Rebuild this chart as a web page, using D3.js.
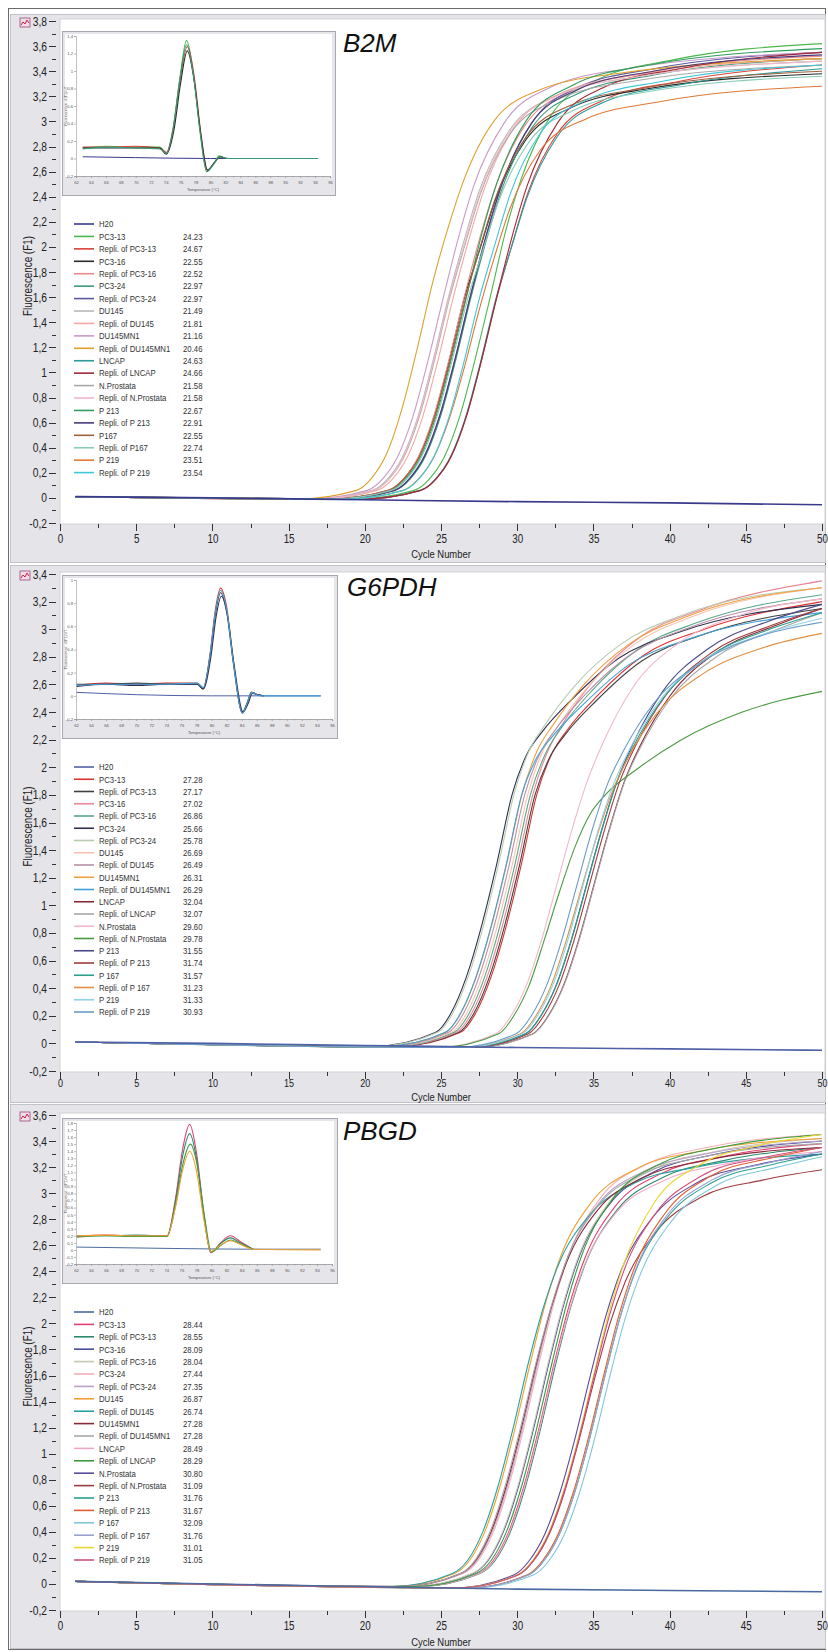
<!DOCTYPE html>
<html><head><meta charset="utf-8">
<script src="https://cdn.jsdelivr.net/npm/d3@7"></script>
<style>body{margin:0;background:#fff}svg{display:block}</style>
</head><body>
<svg id="c" width="828" height="1652"></svg>
<script>
// ---------------- DATA ----------------
const panelTitles = ['B2M','G6PDH','PBGD'];
const yMaxes = [3.8, 3.4, 3.6];
const xTicks = [0,5,10,15,20,25,30,35,40,45,50];

const b2mNames = ['H20','PC3-13','Repli. of PC3-13','PC3-16','Repli. of PC3-16','PC3-24','Repli. of PC3-24','DU145','Repli. of DU145','DU145MN1','Repli. of DU145MN1','LNCAP','Repli. of LNCAP','N.Prostata','Repli. of N.Prostata','P 213','Repli. of P 213','P167','Repli. of P167','P 219','Repli. of P 219'];
const g6Names = ['H20','PC3-13','Repli. of PC3-13','PC3-16','Repli. of PC3-16','PC3-24','Repli. of PC3-24','DU145','Repli. of DU145','DU145MN1','Repli. of DU145MN1','LNCAP','Repli. of LNCAP','N.Prostata','Repli. of N.Prostata','P 213','Repli. of P 213','P 167','Repli. of P 167','P 219','Repli. of P 219'];
const pbNames = ['H20','PC3-13','Repli. of PC3-13','PC3-16','Repli. of PC3-16','PC3-24','Repli. of PC3-24','DU145','Repli. of DU145','DU145MN1','Repli. of DU145MN1','LNCAP','Repli. of LNCAP','N.Prostata','Repli. of N.Prostata','P 213','Repli. of P 213','P 167','Repli. of P 167','P 219','Repli. of P 219'];

const b2mCt = [24.23,24.67,22.55,22.52,22.97,22.97,21.49,21.81,21.16,20.46,24.63,24.66,21.58,21.58,22.67,22.91,22.55,22.74,23.51,23.54];
const g6Ct = [27.28,27.17,27.02,26.86,25.66,25.78,26.69,26.49,26.31,26.29,32.04,32.07,29.60,29.78,31.55,31.74,31.57,31.23,31.33,30.93];
const pbCt = [28.44,28.55,28.09,28.04,27.44,27.35,26.87,26.74,27.28,27.28,28.49,28.29,30.80,31.09,31.76,31.67,32.09,31.76,31.01,31.05];

const b2mColors = ['#3a3a8c','#4cb84c','#d9403a','#2a2a2a','#ec8a8a','#3a9a7a','#5a5aa0','#b8b8b8','#f4a8a0','#c89ac8','#e0a030','#2a9a9a','#a02838','#a8a8a8','#f0b8c8','#2e9e5e','#4a3a7a','#a0603a','#88ccb8','#e07838','#40c8d8'];
const g6Colors = ['#5060a8','#e03030','#404040','#e88898','#58a888','#303050','#b8ccb0','#f8c4b0','#b890a8','#f0a040','#40a0d8','#8a2838','#a8a8a8','#f0b8c8','#4a9a40','#4a4a8a','#a03a3a','#2aa08a','#e09040','#90d0e8','#6a9ac8'];
const pbColors = ['#4a6aa0','#e04070','#2a8a6a','#4a4a9a','#c8c8b0','#f4b0b8','#b8a0c8','#f0a030','#2aa0a0','#8a2838','#a8a8a8','#f0a8c8','#3a9a40','#5a4a9a','#a03a40','#2aa090','#e06030','#80c8d8','#9aa0d0','#e8d830','#d05080'];

// amplification curves [cycle, fluorescence]
const b2mH2O = [[1,0.01],[10,0.0],[20,-0.015],[30,-0.03],[40,-0.04],[50,-0.055]];
const b2mCurves = [
 [[1,0.01],[19.23,-0.01],[23.23,0.06],[24.23,0.15],[25.23,0.33],[26.23,0.65],[27.23,1.1],[28.23,1.6],[29.23,2.12],[30.23,2.53],[32.23,3.05],[35.23,3.33],[40.23,3.49],[50,3.62]],
 [[1,0.01],[19.67,-0.01],[23.67,0.06],[24.67,0.15],[25.67,0.33],[26.67,0.65],[27.67,1.1],[28.67,1.6],[29.67,2.02],[30.67,2.42],[32.67,2.91],[35.67,3.17],[40.67,3.32],[50,3.45]],
 [[1,0.01],[17.55,-0.01],[21.55,0.06],[22.55,0.15],[23.55,0.33],[24.55,0.65],[25.55,1.1],[26.55,1.6],[27.55,1.98],[28.55,2.37],[30.55,2.85],[33.55,3.11],[38.55,3.26],[50,3.38]],
 [[1,0.01],[17.52,-0.01],[21.52,0.06],[22.52,0.15],[23.52,0.33],[24.52,0.65],[25.52,1.1],[26.52,1.6],[27.52,2.06],[28.52,2.46],[30.52,2.97],[33.52,3.24],[38.52,3.39],[50,3.52]],
 [[1,0.01],[17.97,-0.01],[21.97,0.06],[22.97,0.15],[23.97,0.33],[24.97,0.65],[25.97,1.1],[26.97,1.6],[27.97,2.05],[28.97,2.45],[30.97,2.95],[33.97,3.22],[38.97,3.37],[50,3.5]],
 [[1,0.01],[17.97,-0.01],[21.97,0.06],[22.97,0.16],[23.97,0.35],[24.97,0.68],[25.97,1.13],[26.97,1.63],[27.97,2.08],[28.97,2.49],[30.97,2.99],[33.97,3.27],[38.97,3.42],[50,3.55]],
 [[1,0.01],[16.49,-0.01],[20.49,0.06],[21.49,0.15],[22.49,0.33],[23.49,0.65],[24.49,1.1],[25.49,1.6],[26.49,2.04],[27.49,2.44],[29.49,2.93],[32.49,3.2],[37.49,3.35],[50,3.48]],
 [[1,0.01],[16.81,-0.01],[20.81,0.06],[21.81,0.15],[22.81,0.33],[23.81,0.65],[24.81,1.1],[25.81,1.6],[26.81,2.05],[27.81,2.45],[29.81,2.95],[32.81,3.22],[37.81,3.37],[50,3.5]],
 [[1,0.01],[16.16,-0.01],[20.16,0.06],[21.16,0.15],[22.16,0.33],[23.16,0.65],[24.16,1.1],[25.16,1.6],[26.16,2.08],[27.16,2.49],[29.16,2.99],[32.16,3.27],[37.16,3.42],[50,3.55]],
 [[1,0.01],[15.46,-0.01],[19.46,0.06],[20.46,0.16],[21.46,0.36],[22.46,0.72],[23.46,1.2],[24.46,1.72],[25.46,2.15],[26.46,2.52],[28.46,3.0],[31.46,3.25],[36.46,3.38],[50,3.5]],
 [[1,0.01],[19.63,-0.01],[23.63,0.06],[24.63,0.15],[25.63,0.33],[26.63,0.65],[27.63,1.1],[28.63,1.6],[29.63,2.0],[30.63,2.39],[32.63,2.88],[35.63,3.15],[40.63,3.29],[50,3.42]],
 [[1,0.01],[19.66,-0.01],[23.66,0.06],[24.66,0.15],[25.66,0.33],[26.66,0.65],[27.66,1.1],[28.66,1.6],[29.66,2.08],[30.66,2.49],[32.66,2.99],[35.66,3.27],[40.66,3.42],[50,3.55]],
 [[1,0.01],[16.58,-0.01],[20.58,0.06],[21.58,0.15],[22.58,0.33],[23.58,0.65],[24.58,1.1],[25.58,1.6],[26.58,2.02],[27.58,2.42],[29.58,2.91],[32.58,3.17],[37.58,3.32],[50,3.45]],
 [[1,0.01],[16.58,-0.01],[20.58,0.06],[21.58,0.15],[22.58,0.34],[23.58,0.67],[24.58,1.12],[25.58,1.62],[26.58,2.04],[27.58,2.44],[29.58,2.93],[32.58,3.2],[37.58,3.35],[50,3.48]],
 [[1,0.01],[17.67,-0.01],[21.67,0.06],[22.67,0.15],[23.67,0.33],[24.67,0.65],[25.67,1.1],[26.67,1.6],[27.67,2.1],[28.67,2.51],[30.67,3.02],[33.67,3.29],[38.67,3.45],[50,3.58]],
 [[1,0.01],[17.91,-0.01],[21.91,0.06],[22.91,0.15],[23.91,0.33],[24.91,0.65],[25.91,1.1],[26.91,1.6],[27.91,2.07],[28.91,2.47],[30.91,2.98],[33.91,3.25],[38.91,3.4],[50,3.53]],
 [[1,0.01],[17.55,-0.01],[21.55,0.06],[22.55,0.15],[23.55,0.32],[24.55,0.63],[25.55,1.07],[26.55,1.56],[27.55,1.99],[28.55,2.38],[30.55,2.87],[33.55,3.13],[38.55,3.27],[50,3.4]],
 [[1,0.01],[17.74,-0.01],[21.74,0.06],[22.74,0.15],[23.74,0.33],[24.74,0.65],[25.74,1.1],[26.74,1.58],[27.74,1.97],[28.74,2.35],[30.74,2.83],[33.74,3.09],[38.74,3.24],[50,3.36]],
 [[1,0.01],[18.51,-0.01],[22.51,0.06],[23.51,0.15],[24.51,0.32],[25.51,0.62],[26.51,1.03],[27.51,1.5],[28.51,1.92],[29.51,2.3],[31.51,2.77],[34.51,3.02],[39.51,3.16],[50,3.28]],
 [[1,0.01],[18.54,-0.01],[22.54,0.06],[23.54,0.15],[24.54,0.33],[25.54,0.65],[26.54,1.1],[27.54,1.6],[28.54,2.02],[29.54,2.42],[31.54,2.91],[34.54,3.17],[39.54,3.32],[50,3.45]]
];

const g6H2O = [[1,0.01],[10,0.0],[20,-0.015],[30,-0.03],[40,-0.04],[50,-0.05]];
const g6Curves = [
 [[1,0.01],[22.28,-0.02],[26.28,0.08],[27.28,0.22],[28.28,0.48],[29.28,0.85],[30.28,1.3],[31.28,1.8],[32.28,2.1],[33.28,2.27],[35.28,2.52],[38.28,2.81],[42.28,3.0],[50,3.2]],
 [[1,0.01],[22.17,-0.02],[26.17,0.08],[27.17,0.22],[28.17,0.48],[29.17,0.85],[30.17,1.3],[31.17,1.8],[32.17,2.08],[33.17,2.24],[35.17,2.48],[38.17,2.77],[42.17,2.96],[50,3.15]],
 [[1,0.01],[22.02,-0.02],[26.02,0.08],[27.02,0.22],[28.02,0.48],[29.02,0.85],[30.02,1.3],[31.02,1.8],[32.02,2.12],[33.02,2.32],[35.02,2.63],[38.02,2.94],[42.02,3.14],[50,3.35]],
 [[1,0.01],[21.86,-0.02],[25.86,0.08],[26.86,0.22],[27.86,0.48],[28.86,0.85],[29.86,1.3],[30.86,1.8],[31.86,2.1],[32.86,2.28],[34.86,2.55],[37.86,2.85],[41.86,3.05],[50,3.25]],
 [[1,0.01],[20.66,-0.02],[24.66,0.08],[25.66,0.22],[26.66,0.48],[27.66,0.85],[28.66,1.3],[29.66,1.8],[30.66,2.1],[31.66,2.26],[33.66,2.5],[36.66,2.79],[40.66,2.98],[50,3.18]],
 [[1,0.01],[20.78,-0.02],[24.78,0.08],[25.78,0.22],[26.78,0.48],[27.78,0.85],[28.78,1.3],[29.78,1.8],[30.78,2.12],[31.78,2.3],[33.78,2.59],[36.78,2.89],[40.78,3.1],[50,3.3]],
 [[1,0.01],[21.69,-0.02],[25.69,0.08],[26.69,0.22],[27.69,0.48],[28.69,0.85],[29.69,1.3],[30.69,1.8],[31.69,2.12],[32.69,2.3],[34.69,2.59],[37.69,2.89],[41.69,3.1],[50,3.3]],
 [[1,0.01],[21.49,-0.02],[25.49,0.08],[26.49,0.22],[27.49,0.48],[28.49,0.85],[29.49,1.3],[30.49,1.8],[31.49,2.1],[32.49,2.27],[34.49,2.53],[37.49,2.82],[41.49,3.02],[50,3.22]],
 [[1,0.01],[21.31,-0.02],[25.31,0.08],[26.31,0.22],[27.31,0.48],[28.31,0.85],[29.31,1.3],[30.31,1.8],[31.31,2.12],[32.31,2.3],[34.31,2.59],[37.31,2.89],[41.31,3.1],[50,3.3]],
 [[1,0.01],[21.29,-0.02],[25.29,0.08],[26.29,0.22],[27.29,0.48],[28.29,0.85],[29.29,1.3],[30.29,1.8],[31.29,2.07],[32.29,2.22],[34.29,2.45],[37.29,2.74],[41.29,2.93],[50,3.12]],
 [[1,0.01],[27.04,-0.03],[31.04,0.07],[32.04,0.2],[33.04,0.42],[34.04,0.75],[35.04,1.15],[36.04,1.55],[37.04,1.9],[38.04,2.15],[40.04,2.52],[43.04,2.83],[47.04,3.03],[50,3.15]],
 [[1,0.01],[27.07,-0.03],[31.07,0.07],[32.07,0.2],[33.07,0.42],[34.07,0.75],[35.07,1.15],[36.07,1.55],[37.07,1.9],[38.07,2.14],[40.07,2.5],[43.07,2.8],[47.07,3.0],[50,3.12]],
 [[1,0.01],[24.6,-0.03],[28.6,0.07],[29.6,0.2],[30.6,0.42],[31.6,0.75],[32.6,1.15],[33.6,1.55],[34.6,1.9],[35.6,2.17],[37.6,2.58],[40.6,2.9],[44.6,3.1],[50,3.22]],
 [[1,0.01],[24.78,-0.03],[28.78,0.07],[29.78,0.2],[30.78,0.42],[31.78,0.75],[32.78,1.1],[33.78,1.42],[34.78,1.66],[35.78,1.8],[37.78,1.98],[40.78,2.2],[44.78,2.4],[50,2.55]],
 [[1,0.01],[26.55,-0.03],[30.55,0.07],[31.55,0.2],[32.55,0.42],[33.55,0.75],[34.55,1.15],[35.55,1.55],[36.55,1.9],[37.55,2.16],[39.55,2.55],[42.55,2.86],[46.55,3.06],[50,3.18]],
 [[1,0.01],[26.74,-0.03],[30.74,0.07],[31.74,0.2],[32.74,0.42],[33.74,0.75],[34.74,1.15],[35.74,1.55],[36.74,1.9],[37.74,2.15],[39.74,2.52],[42.74,2.83],[46.74,3.03],[50,3.15]],
 [[1,0.01],[26.57,-0.03],[30.57,0.07],[31.57,0.2],[32.57,0.42],[33.57,0.75],[34.57,1.15],[35.57,1.55],[36.57,1.9],[37.57,2.14],[39.57,2.5],[42.57,2.8],[46.57,3.0],[50,3.12]],
 [[1,0.01],[26.23,-0.03],[30.23,0.07],[31.23,0.2],[32.23,0.42],[33.23,0.75],[34.23,1.13],[35.23,1.5],[36.23,1.82],[37.23,2.06],[39.23,2.4],[42.23,2.68],[46.23,2.87],[50,2.97]],
 [[1,0.01],[26.33,-0.03],[30.33,0.07],[31.33,0.2],[32.33,0.42],[33.33,0.75],[34.33,1.15],[35.33,1.55],[36.33,1.88],[37.33,2.12],[39.33,2.48],[42.33,2.78],[46.33,2.97],[50,3.08]],
 [[1,0.01],[25.93,-0.03],[29.93,0.07],[30.93,0.2],[31.93,0.42],[32.93,0.75],[33.93,1.15],[34.93,1.55],[35.93,1.88],[36.93,2.11],[38.93,2.46],[41.93,2.75],[45.93,2.95],[50,3.05]]
];

const pbH2O = [[1,0.02],[10,0.0],[20,-0.02],[30,-0.04],[40,-0.05],[50,-0.06]];
const pbCurves = [
 [[1,0.02],[23.44,-0.02],[27.44,0.08],[28.44,0.18],[29.44,0.4],[30.44,0.75],[31.44,1.2],[32.44,1.7],[33.44,2.15],[34.44,2.5],[36.44,2.9],[39.44,3.15],[43.44,3.28],[50,3.38]],
 [[1,0.02],[23.55,-0.02],[27.55,0.08],[28.55,0.18],[29.55,0.4],[30.55,0.75],[31.55,1.2],[32.55,1.7],[33.55,2.14],[34.55,2.48],[36.55,2.87],[39.55,3.12],[43.55,3.25],[50,3.35]],
 [[1,0.02],[23.09,-0.02],[27.09,0.08],[28.09,0.18],[29.09,0.4],[30.09,0.75],[31.09,1.2],[32.09,1.7],[33.09,2.16],[34.09,2.52],[36.09,2.92],[39.09,3.17],[43.09,3.3],[50,3.4]],
 [[1,0.02],[23.04,-0.02],[27.04,0.08],[28.04,0.18],[29.04,0.4],[30.04,0.75],[31.04,1.2],[32.04,1.7],[33.04,2.16],[34.04,2.52],[36.04,2.93],[39.04,3.19],[43.04,3.32],[50,3.42]],
 [[1,0.02],[22.44,-0.02],[26.44,0.08],[27.44,0.18],[28.44,0.4],[29.44,0.75],[30.44,1.2],[31.44,1.7],[32.44,2.17],[33.44,2.54],[35.44,2.96],[38.44,3.22],[42.44,3.35],[50,3.45]],
 [[1,0.02],[22.35,-0.02],[26.35,0.08],[27.35,0.18],[28.35,0.4],[29.35,0.75],[30.35,1.2],[31.35,1.7],[32.35,2.16],[33.35,2.52],[35.35,2.92],[38.35,3.17],[42.35,3.3],[50,3.4]],
 [[1,0.02],[21.87,-0.02],[25.87,0.08],[26.87,0.18],[27.87,0.4],[28.87,0.75],[29.87,1.2],[30.87,1.7],[31.87,2.16],[32.87,2.52],[34.87,2.93],[37.87,3.19],[41.87,3.32],[50,3.42]],
 [[1,0.02],[21.74,-0.02],[25.74,0.08],[26.74,0.18],[27.74,0.4],[28.74,0.75],[29.74,1.2],[30.74,1.7],[31.74,2.13],[32.74,2.46],[34.74,2.83],[37.74,3.08],[41.74,3.2],[50,3.3]],
 [[1,0.02],[22.28,-0.02],[26.28,0.08],[27.28,0.18],[28.28,0.4],[29.28,0.75],[30.28,1.2],[31.28,1.7],[32.28,2.14],[33.28,2.48],[35.28,2.87],[38.28,3.12],[42.28,3.25],[50,3.35]],
 [[1,0.02],[22.28,-0.02],[26.28,0.08],[27.28,0.19],[28.28,0.42],[29.28,0.78],[30.28,1.23],[31.28,1.72],[32.28,2.15],[33.28,2.5],[35.28,2.9],[38.28,3.15],[42.28,3.28],[50,3.38]],
 [[1,0.02],[23.49,-0.02],[27.49,0.08],[28.49,0.18],[29.49,0.4],[30.49,0.75],[31.49,1.2],[32.49,1.7],[33.49,2.13],[34.49,2.47],[36.49,2.85],[39.49,3.09],[43.49,3.22],[50,3.32]],
 [[1,0.02],[23.29,-0.02],[27.29,0.08],[28.29,0.18],[29.29,0.4],[30.29,0.75],[31.29,1.2],[32.29,1.7],[33.29,2.17],[34.29,2.54],[36.29,2.96],[39.29,3.22],[43.29,3.35],[50,3.45]],
 [[1,0.02],[25.8,-0.03],[29.8,0.07],[30.8,0.18],[31.8,0.38],[32.8,0.7],[33.8,1.12],[34.8,1.6],[35.8,2.05],[36.8,2.4],[38.8,2.8],[41.8,3.08],[45.8,3.22],[50,3.3]],
 [[1,0.02],[26.09,-0.03],[30.09,0.07],[31.09,0.18],[32.09,0.38],[33.09,0.7],[34.09,1.12],[35.09,1.58],[36.09,2.0],[37.09,2.32],[39.09,2.7],[42.09,2.97],[46.09,3.1],[50,3.18]],
 [[1,0.02],[26.76,-0.03],[30.76,0.07],[31.76,0.18],[32.76,0.38],[33.76,0.7],[34.76,1.12],[35.76,1.6],[36.76,2.05],[37.76,2.4],[39.76,2.8],[42.76,3.08],[46.76,3.22],[50,3.3]],
 [[1,0.02],[26.67,-0.03],[30.67,0.07],[31.67,0.18],[32.67,0.38],[33.67,0.7],[34.67,1.12],[35.67,1.6],[36.67,2.06],[37.67,2.42],[39.67,2.84],[42.67,3.13],[46.67,3.27],[50,3.35]],
 [[1,0.02],[27.09,-0.03],[31.09,0.07],[32.09,0.18],[33.09,0.38],[34.09,0.7],[35.09,1.12],[36.09,1.6],[37.09,2.04],[38.09,2.38],[40.09,2.78],[43.09,3.06],[47.09,3.2],[50,3.28]],
 [[1,0.02],[26.76,-0.03],[30.76,0.07],[31.76,0.18],[32.76,0.38],[33.76,0.7],[34.76,1.12],[35.76,1.6],[36.76,2.05],[37.76,2.41],[39.76,2.82],[42.76,3.1],[46.76,3.24],[50,3.32]],
 [[1,0.02],[26.01,-0.03],[30.01,0.07],[31.01,0.18],[32.01,0.38],[33.01,0.7],[34.01,1.12],[35.01,1.6],[36.01,2.08],[37.01,2.46],[39.01,2.93],[42.01,3.22],[46.01,3.37],[50,3.45]],
 [[1,0.02],[26.05,-0.03],[30.05,0.07],[31.05,0.18],[32.05,0.38],[33.05,0.7],[34.05,1.12],[35.05,1.6],[36.05,2.06],[37.05,2.42],[39.05,2.84],[42.05,3.13],[46.05,3.27],[50,3.35]]
];

// melting-curve insets [temperature, -dF/dT]
const meltXTicks = [62,64,66,68,70,72,74,76,78,80,82,84,86,88,90,92,94,96];
const b2mMeltDomain = [-0.2, 1.4];
const g6MeltDomain = [-0.2, 1.0];
const pbMeltDomain = [-0.2, 1.8];
const b2mMeltColors = ['#4cb84c','#d9403a','#2a2a2a','#3a9a7a'];
const g6MeltColors = ['#e03030','#404040','#303050','#40a0d8'];
const pbMeltColors = ['#e04070','#2a8a6a','#3a9a40','#f0a030'];
const b2mMelt = [
 [[62.9,0.12],[66,0.14],[70,0.13],[73.2,0.13],[74.1,0.06],[75,0.35],[75.9,0.92],[76.8,1.35],[77.7,0.98],[78.6,0.32],[79.5,-0.15],[80.4,-0.06],[81.2,0.03],[81.9,0.0]],
 [[62.9,0.13],[66,0.13],[70,0.14],[73.2,0.12],[74.1,0.07],[75,0.33],[75.9,0.88],[76.9,1.28],[77.8,0.95],[78.7,0.3],[79.6,-0.14],[80.5,-0.05],[81.3,0.02],[82,0.0]],
 [[62.9,0.12],[66,0.12],[70,0.12],[73.2,0.12],[74.1,0.05],[75.1,0.32],[76,0.86],[76.9,1.23],[77.8,0.9],[78.7,0.28],[79.6,-0.13],[80.5,-0.05],[81.3,0.02],[82,0.0]],
 [[62.9,0.11],[66,0.13],[70,0.12],[73.2,0.11],[74.1,0.06],[75,0.34],[75.9,0.9],[76.8,1.3],[77.7,0.96],[78.6,0.31],[79.5,-0.15],[80.4,-0.07],[81.2,0.02],[82.5,0.0],[94.4,0.0]]
];
const b2mMeltH2O = [[62.9,0.02],[70,0.01],[80,0.0],[94.4,0.0]];
const g6Melt = [
 [[62.1,0.09],[66,0.11],[70,0.1],[74,0.11],[78.1,0.11],[78.9,0.07],[79.8,0.36],[80.5,0.74],[81.2,0.93],[82,0.77],[82.9,0.3],[84.1,-0.15],[84.8,-0.05],[85.3,0.03],[86.1,0.01],[86.9,0.0]],
 [[62.1,0.1],[66,0.1],[70,0.11],[74,0.1],[78.1,0.1],[78.9,0.06],[79.8,0.34],[80.5,0.7],[81.2,0.89],[82,0.73],[82.9,0.28],[84.1,-0.14],[84.8,-0.05],[85.3,0.03],[86.1,0.01],[86.9,0.0]],
 [[62.1,0.08],[66,0.1],[70,0.09],[74,0.1],[78.1,0.1],[78.9,0.06],[79.9,0.33],[80.6,0.68],[81.3,0.86],[82.1,0.7],[83,0.27],[84.2,-0.14],[84.9,-0.06],[85.4,0.02],[86.2,0.01],[87,0.0]],
 [[62.1,0.09],[66,0.1],[70,0.1],[74,0.1],[78.1,0.11],[78.9,0.07],[79.8,0.35],[80.5,0.72],[81.2,0.91],[82,0.75],[82.9,0.29],[84.1,-0.15],[84.8,-0.05],[85.3,0.03],[86.5,0.0],[94.5,0.0]]
];
const g6MeltH2O = [[62.1,0.03],[70,0.01],[80,0.0],[94.5,0.0]];
const pbMelt = [
 [[62.1,0.19],[66,0.21],[70,0.2],[74.1,0.2],[75.2,0.72],[76.2,1.45],[77.1,1.78],[78,1.38],[79,0.5],[79.9,-0.04],[81.2,0.1],[82.5,0.2],[83.8,0.12],[85.5,0.01]],
 [[62.1,0.2],[66,0.2],[70,0.21],[74.1,0.2],[75.2,0.68],[76.2,1.35],[77.1,1.65],[78,1.3],[79,0.47],[79.9,-0.03],[81.2,0.09],[82.5,0.17],[83.8,0.1],[85.5,0.01]],
 [[62.1,0.18],[66,0.2],[70,0.19],[74.1,0.19],[75.2,0.62],[76.2,1.22],[77.2,1.5],[78.1,1.2],[79.1,0.45],[80,-0.03],[81.3,0.07],[82.6,0.14],[83.9,0.08],[85.6,0.01]],
 [[62.1,0.2],[66,0.21],[70,0.2],[74.1,0.2],[75.2,0.6],[76.2,1.15],[77.1,1.4],[78,1.12],[79,0.42],[79.9,-0.02],[81.2,0.07],[82.5,0.13],[83.8,0.08],[85.5,0.01],[94.5,0.0]]
];
const pbMeltH2O = [[62.1,0.04],[75,0.02],[85,0.01],[94.5,0.01]];

// ---------------- DRAWING ----------------
const FONT = "'Liberation Sans',Arial,sans-serif";
const SX = 0.82; // horizontal condensing (narrow face look)
const fmt = v => String(Math.round(v*100)/100).replace('.', ',');
const svg = d3.select('#c');

const panels = [
 {title:panelTitles[0], yMax:yMaxes[0], names:b2mNames, ct:b2mCt, colors:b2mColors, curves:b2mCurves, h2o:b2mH2O,
  melt:b2mMelt, meltH2O:b2mMeltH2O, meltCol:b2mMeltColors, meltDom:b2mMeltDomain, meltStep:0.2,
  L:{top:14,bottom:562,yTop:21,yBot:523,legY:224,legStep:12.43,inset:{x:62,y:31,w:273,h:164},tx:343,ty:52,xPad:3,xFont:12,cycY:558}},
 {title:panelTitles[1], yMax:yMaxes[1], names:g6Names, ct:g6Ct, colors:g6Colors, curves:g6Curves, h2o:g6H2O,
  melt:g6Melt, meltH2O:g6MeltH2O, meltCol:g6MeltColors, meltDom:g6MeltDomain, meltStep:0.2,
  L:{top:565,bottom:1102,yTop:574,yBot:1071,legY:767,legStep:12.25,inset:{x:62,y:575,w:275,h:163},tx:347,ty:596,xPad:0,xFont:11,cycY:1100.5}},
 {title:panelTitles[2], yMax:yMaxes[2], names:pbNames, ct:pbCt, colors:pbColors, curves:pbCurves, h2o:pbH2O,
  melt:pbMelt, meltH2O:pbMeltH2O, meltCol:pbMeltColors, meltDom:pbMeltDomain, meltStep:0.1,
  L:{top:1104,bottom:1648,yTop:1115,yBot:1610,legY:1312,legStep:12.4,inset:{x:62,y:1118,w:275,h:165},tx:343,ty:1140,xPad:3,xFont:12,cycY:1646}}
];

svg.append('rect').attr('x',8.5).attr('y',8.5).attr('width',817).attr('height',1641)
  .attr('fill','#fff').attr('stroke','#6a6a6a');

panels.forEach((p,pi) => drawPanel(p,pi));

// condensed text helper
function ntext(parent, x, y, str, size, anchor, rot){
  return parent.append('text')
    .attr('transform',`translate(${x},${y})${rot?' rotate('+rot+')':''} scale(${SX},1)`)
    .attr('font-family',FONT).attr('font-size',size).attr('text-anchor',anchor||'start')
    .attr('fill','#222').text(str);
}
function styleAxis(s, size){
  s.select('.domain').remove();
  s.selectAll('line').attr('stroke','#333').attr('shape-rendering','crispEdges');
  s.selectAll('text').attr('font-family',FONT).attr('font-size',size).attr('fill','#222')
    .each(function(){
      const t = d3.select(this);
      const xv = +t.attr('x') || 0;
      t.attr('x', xv/SX).attr('transform',`scale(${SX},1)`);
    });
}

function drawPanel(p, pi){
  const L = p.L;
  const g = svg.append('g');
  g.append('rect').attr('x',10.5).attr('y',L.top+0.5).attr('width',815).attr('height',L.bottom-L.top)
    .attr('fill','#e4e4e9').attr('stroke','#c2c2ca');
  const x = d3.scaleLinear().domain([0,50]).range([60,822]);
  const y = d3.scaleLinear().domain([-0.2,p.yMax]).range([L.yBot,L.yTop]);

  g.append('rect').attr('x',60).attr('y',L.yTop-2).attr('width',765).attr('height',L.yBot-L.yTop+3)
    .attr('fill','#fff').attr('stroke','#d2d2d8');

  // y axis
  const major = d3.range(-2, Math.round(p.yMax*10)+1, 2).map(d=>d/10);
  const minor = d3.range(-1, Math.round(p.yMax*10), 2).map(d=>d/10);
  g.append('g').attr('transform','translate(56,0)')
    .call(d3.axisLeft(y).tickValues(minor).tickSize(4).tickFormat(''))
    .call(s=>styleAxis(s,12.5));
  g.append('g').attr('transform','translate(56,0)')
    .call(d3.axisLeft(y).tickValues(major).tickSize(7).tickPadding(2).tickFormat(fmt))
    .call(s=>styleAxis(s,12.5));

  // x axis
  const xMinor = xTicks.slice(0,-1).map(t=>t+2.5);
  g.append('g').attr('transform',`translate(0,${L.yBot+1})`)
    .call(d3.axisBottom(x).tickValues(xMinor).tickSize(4).tickFormat(''))
    .call(s=>styleAxis(s,12));
  g.append('g').attr('transform',`translate(0,${L.yBot+1})`)
    .call(d3.axisBottom(x).tickValues(xTicks).tickSize(7).tickPadding(L.xPad).tickFormat(d3.format('d')))
    .call(s=>styleAxis(s,L.xFont));

  ntext(g, 441, L.cycY, 'Cycle Number', 11.5, 'middle');
  const ym = (L.yTop+L.yBot)/2+4;
  ntext(g, 32, ym, 'Fluorescence (F1)', 12, 'middle', -90);

  // icon
  const ic = g.append('g').attr('transform',`translate(20,${L.yTop-3})`);
  ic.append('rect').attr('width',10).attr('height',9).attr('fill','#f3dcea').attr('stroke','#9a4a78').attr('stroke-width',0.8);
  ic.append('path').attr('d','M1,7 L3,4 L5,6 L7,2 L9,5').attr('fill','none').attr('stroke','#d02040').attr('stroke-width',1);

  // curves
  const clipId = 'clip'+pi;
  svg.append('clipPath').attr('id',clipId).append('rect')
    .attr('x',60).attr('y',L.yTop-2).attr('width',765).attr('height',L.yBot-L.yTop+3);
  const cg = g.append('g').attr('clip-path',`url(#${clipId})`);
  const line = d3.line().x(d=>x(d[0])).y(d=>y(d[1])).curve(d3.curveMonotoneX);
  p.curves.forEach((c,i)=>{
    cg.append('path').attr('d',line(c)).attr('fill','none').attr('stroke',p.colors[i+1]).attr('stroke-width',1.1);
  });
  cg.append('path').attr('d',line(p.h2o)).attr('fill','none').attr('stroke',p.colors[0]).attr('stroke-width',1.6);

  // inset
  drawInset(g, L.inset, p);

  // legend
  const lg = g.append('g');
  p.names.forEach((n,i)=>{
    const yy = L.legY + i*L.legStep;
    lg.append('line').attr('x1',74).attr('x2',94).attr('y1',yy).attr('y2',yy)
      .attr('stroke',p.colors[i]).attr('stroke-width',1.6);
    ntext(lg, 99, yy+3.3, n, 9.5, 'start').attr('fill','#333');
    if(i>0) ntext(lg, 183, yy+3.3, p.ct[i-1].toFixed(2), 9.5, 'start').attr('fill','#333');
  });

  // title
  g.append('text').attr('x',L.tx).attr('y',L.ty).attr('font-family',FONT)
    .attr('font-style','italic').attr('font-size',26).attr('fill','#111').text(p.title);
}

function drawInset(g, b, p){
  const ig = g.append('g');
  ig.append('rect').attr('x',b.x+0.5).attr('y',b.y+0.5).attr('width',b.w).attr('height',b.h)
    .attr('fill','#e6e6ea').attr('stroke','#a8a8b2');
  const Lx = b.x+14, Rx = b.x+b.w-5, T = b.y+5, B = b.y+b.h-19;
  ig.append('rect').attr('x',b.x+3).attr('y',b.y+3).attr('width',b.w-6).attr('height',B-b.y-2).attr('fill','#fff');
  const xi = d3.scaleLinear().domain([meltXTicks[0], meltXTicks[meltXTicks.length-1]]).range([Lx,Rx]);
  const yi = d3.scaleLinear().domain(p.meltDom).range([B,T]);
  const n0 = Math.round(p.meltDom[0]/p.meltStep), n1 = Math.round(p.meltDom[1]/p.meltStep);
  const yt = d3.range(n0, n1+1).map(k=>+(k*p.meltStep).toFixed(2));
  const sty = s=>{
    s.select('.domain').attr('stroke','#999').attr('stroke-width',0.6);
    s.selectAll('line').attr('stroke','#888').attr('stroke-width',0.6);
    s.selectAll('text').attr('font-family',FONT).attr('font-size',4.2).attr('fill','#555');
  };
  ig.append('g').attr('transform',`translate(${Lx},0)`)
    .call(d3.axisLeft(yi).tickValues(yt).tickSize(2).tickPadding(1).tickFormat(fmt)).call(sty);
  ig.append('g').attr('transform',`translate(0,${B})`)
    .call(d3.axisBottom(xi).tickValues(meltXTicks).tickSize(2).tickPadding(3).tickFormat(d3.format('d'))).call(sty);
  ig.append('g').attr('transform',`translate(0,${B})`)
    .call(d3.axisBottom(xi).tickValues(meltXTicks.slice(0,-1).map(t=>t+1)).tickSize(1.2).tickFormat('')).call(sty);
  ig.append('text').attr('x',(Lx+Rx)/2).attr('y',b.y+b.h-4).attr('text-anchor','middle')
    .attr('font-family',FONT).attr('font-size',4.2).attr('fill','#555').text('Temperature (°C)');
  ig.append('text').attr('transform',`translate(${b.x+5},${(T+B)/2}) rotate(-90)`).attr('text-anchor','middle')
    .attr('font-family',FONT).attr('font-size',3.8).attr('fill','#555').text('Fluorescence -d(F1)/dT');
  const ln = d3.line().x(d=>xi(d[0])).y(d=>yi(d[1])).curve(d3.curveMonotoneX);
  ig.append('path').attr('d',ln(p.meltH2O)).attr('fill','none').attr('stroke',p.colors[0]).attr('stroke-width',1);
  p.melt.forEach((c,i)=>{
    ig.append('path').attr('d',ln(c)).attr('fill','none').attr('stroke',p.meltCol[i]).attr('stroke-width',1.1);
  });
}
</script>
</body></html>
